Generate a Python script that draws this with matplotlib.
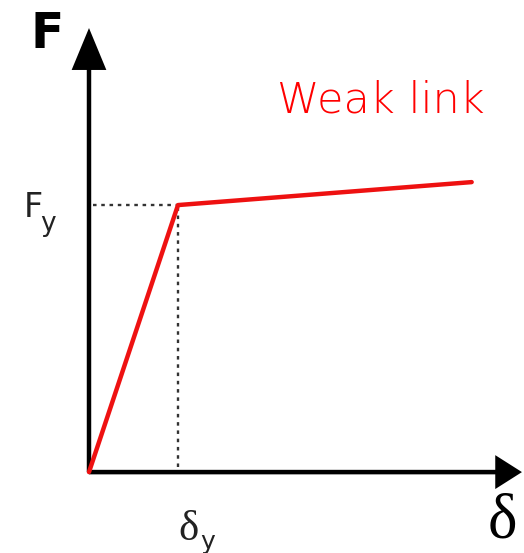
import matplotlib.pyplot as plt

# bilinear force-displacement curve (normalised by yield values)
delta = [0.0, 1.0, 4.3]
force = [0.0, 1.0, 1.086]
delta_y = 1.0
force_y = 1.0

fig = plt.figure(figsize=(5.24, 5.53), dpi=100)
ax = fig.add_axes([0, 0, 1, 1])
ax.set_xlim(-1.0, 4.888)
ax.set_ylim(-0.303, 1.768)
ax.axis('off')

# axes arrows
ax.arrow(0, 0, 0, 1.663, width=0.05, head_width=0.39, head_length=0.157,
         length_includes_head=True, color='black', lw=0)
ax.arrow(0, 0, 4.865, 0, width=0.017, head_width=0.127, head_length=0.30,
         length_includes_head=True, color='black', lw=0)

# yield guides
ax.plot([0.05, delta_y], [force_y, force_y], ls=(0, (1.5, 2)), color='#333333', lw=1.7)
ax.plot([delta_y, delta_y], [0.02, force_y], ls=(0, (1.5, 2)), color='#333333', lw=1.7)

ax.plot(delta, force, color='#ee1111', lw=3.2, solid_capstyle='round', zorder=5)

ax.text(-0.47, 1.64, 'F', fontsize=35, fontweight='bold', ha='center', va='center')
ax.text(-0.63, 0.99, 'F', fontsize=24, ha='center', va='center', color='#222222')
ax.text(-0.46, 0.93, 'y', fontsize=19, ha='center', va='center', color='#222222')
ax.text(1.12, -0.215, 'δ', fontsize=31, ha='center', va='center',
        color='#222222', family='Liberation Serif')
ax.text(1.33, -0.26, 'y', fontsize=18, ha='center', va='center', color='#222222')
ax.text(4.65, -0.19, 'δ', fontsize=45, ha='center', va='center', family='Liberation Serif')
ax.text(3.28, 1.393, 'Weak link', fontsize=31, color='red', ha='center', va='center',
        family='DejaVu Sans', fontweight='light')

fig.savefig('out.png', dpi=100)
